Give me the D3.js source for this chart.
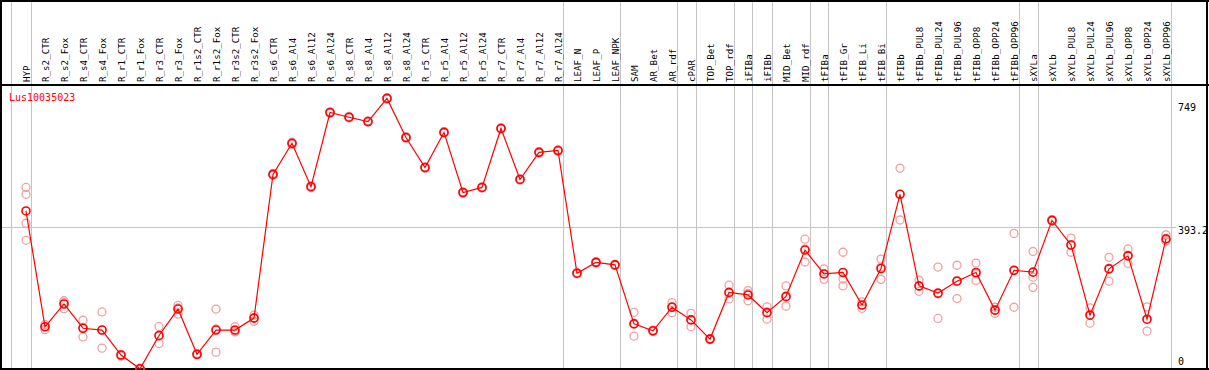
<!DOCTYPE html>
<html><head><meta charset="utf-8">
<script src="https://cdn.jsdelivr.net/npm/d3@7"></script>
<style>
html,body{margin:0;padding:0;background:#fff;}
svg{display:block;}
text{font-family:"DejaVu Sans Mono",monospace;}
</style></head>
<body>
<script>
const categories = ["HYP","R_s2_CTR","R_s2_Fox","R_s4_CTR","R_s4_Fox","R_r1_CTR","R_r1_Fox","R_r3_CTR","R_r3_Fox","R_r1s2_CTR","R_r1s2_Fox","R_r3s2_CTR","R_r3s2_Fox","R_s6_CTR","R_s6_Al4","R_s6_Al12","R_s6_Al24","R_s8_CTR","R_s8_Al4","R_s8_Al12","R_s8_Al24","R_r5_CTR","R_r5_Al4","R_r5_Al12","R_r5_Al24","R_r7_CTR","R_r7_Al4","R_r7_Al12","R_r7_Al24","LEAF_N","LEAF_P","LEAF_NPK","SAM","AR_Bet","AR_rdf","cPAR","TOP_Bet","TOP_rdf","iFIBa","iFIBb","MID_Bet","MID_rdf","tFIBa","tFIB_Gr","tFIB_Li","tFIB_Bi","tFIBb","tFIBb_PUL8","tFIBb_PUL24","tFIBb_PUL96","tFIBb_OPP8","tFIBb_OPP24","tFIBb_OPP96","sXYLa","sXYLb","sXYLb_PUL8","sXYLb_PUL24","sXYLb_PUL96","sXYLb_OPP8","sXYLb_OPP24","sXYLb_OPP96"];

const meanValues = [438,118,181,114,109,40,2,94,167,42,109,109,142,539,625,505,710,697,685,749,641,558,655,489,503,666,525,600,605,266,296,289,126,107,172,137,84,213,206,157,202,330,264,268,178,279,484,231,211,244,268,164,274,269,412,344,150,278,314,139,361];

const replicates = [
 [503,484,404,357],[124,118,110],[190,185,168],[136,116,90],[159,109,59],[42,40,37],[4,2,0],[119,92,72],[177,170,153],[44,42,40],[167,112,48],[118,106,104],[150,143,133],
 [542,539,536],[628,625,622],[508,505,502],[712,710,708],[699,697,695],[687,685,683],[751,749,747],[643,641,639],[560,558,556],[657,655,653],[491,489,487],[505,503,501],[668,666,664],[527,525,523],[602,600,598],[607,605,603],
 [268,266,264],[298,296,294],[291,289,287],[158,128,92],[109,107,105],[185,174,157],[155,138,118],[86,84,82],[233,211,195],[218,210,190],[173,159,139],[231,200,175],[360,333,297],[278,265,249],[324,250,231],[187,178,169],[305,283,249],[556,484,413],
 [247,230,216],[283,209,141],[288,246,196],[294,264,246],[172,165,155],[376,274,172],[326,255,227],[414,412,410],[363,345,324],[170,152,128],[310,280,244],[333,316,293],[173,138,106],[372,356,355]
];

const groupEnds = [-1,0,28,31,34,35,37,38,39,41,42,45,52,53,60];
const axisTicks = [0,393.2,749];
const geneName = "Lus10035023";

const W = 1209, H = 370;
const svg = d3.select("body").append("svg").attr("width",W).attr("height",H);

const x = d3.scaleLinear().domain([0,categories.length-1]).range([26,1166]);
const y = d3.scaleLinear().domain([0,749]).range([369.5,98.4]);

// vertical separators
svg.selectAll("line.vsep").data(groupEnds).enter().append("line")
  .attr("x1",d=>Math.round(x(d)+4.5)+0.5).attr("x2",d=>Math.round(x(d)+4.5)+0.5)
  .attr("y1",0).attr("y2",H).attr("stroke","#c4c4c4").attr("stroke-width",1);

// horizontal reference line
svg.append("line").attr("x1",0).attr("x2",1176)
  .attr("y1",Math.round(y(393.2))+0.5).attr("y2",Math.round(y(393.2))+0.5)
  .attr("stroke","#c4c4c4").attr("stroke-width",1);

// frame
svg.append("line").attr("x1",0).attr("x2",W).attr("y1",1).attr("y2",1).attr("stroke","#000").attr("stroke-width",2);
svg.append("line").attr("x1",0).attr("x2",W).attr("y1",85).attr("y2",85).attr("stroke","#000").attr("stroke-width",2);
svg.append("line").attr("x1",0).attr("x2",W).attr("y1",369).attr("y2",369).attr("stroke","#000").attr("stroke-width",2);
svg.append("line").attr("x1",1).attr("x2",1).attr("y1",0).attr("y2",H).attr("stroke","#000").attr("stroke-width",2);
svg.append("line").attr("x1",1207).attr("x2",1207).attr("y1",0).attr("y2",H).attr("stroke","#000").attr("stroke-width",2);

// column labels
svg.selectAll("text.cat").data(categories).enter().append("text")
  .attr("transform",(d,i)=>`translate(${x(i)+4},82) rotate(-90)`)
  .attr("font-size","9.2px").attr("fill","#000").text(d=>d);

// axis tick labels
const tickY = {0:365, 393.2:234, 749:111};
svg.selectAll("text.tick").data(axisTicks).enter().append("text")
  .attr("x",1178).attr("y",d=>tickY[d]).attr("font-size","10px").attr("fill","#000")
  .text(d=>d);

// replicate points
const reps = [];
replicates.forEach((arr,i)=>arr.forEach(v=>reps.push({i,v})));
svg.selectAll("circle.rep").data(reps).enter().append("circle")
  .attr("cx",d=>x(d.i)).attr("cy",d=>y(d.v)).attr("r",4)
  .attr("fill","none").attr("stroke","#f0a0a0").attr("stroke-width",1.3);

// mean line
svg.append("path").datum(meanValues)
  .attr("d",d3.line().x((d,i)=>x(i)).y(d=>y(d)))
  .attr("fill","none").attr("stroke","#ff0000").attr("stroke-width",1.2);

svg.selectAll("circle.mean").data(meanValues).enter().append("circle")
  .attr("cx",(d,i)=>x(i)).attr("cy",d=>y(d)).attr("r",4)
  .attr("fill","none").attr("stroke","#ff0000").attr("stroke-width",1.6);

// gene name
svg.append("text").attr("x",9).attr("y",101).attr("font-size","10px").attr("fill","#ff0000").text(geneName);
</script>
</body></html>
